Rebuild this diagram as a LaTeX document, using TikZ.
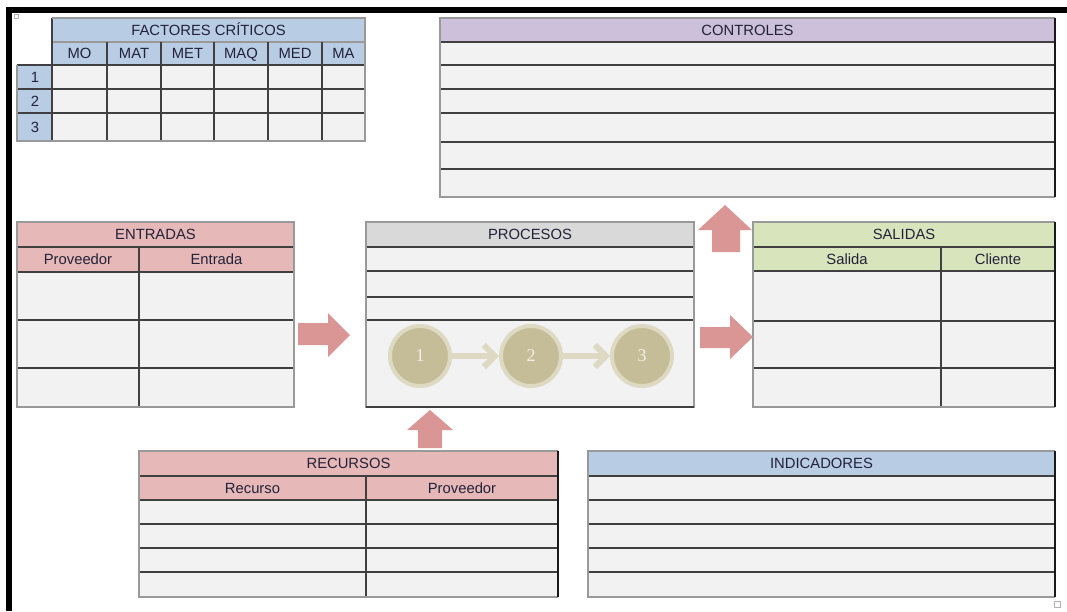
\documentclass[tikz,border=0pt]{standalone}
\usepackage{fontspec}
\setmainfont{Liberation Sans}
\newfontfamily\numfont{Liberation Serif}
\usetikzlibrary{arrows.meta}
\definecolor{cell}{HTML}{F2F2F2}
\definecolor{hblue}{HTML}{B8CCE4}
\definecolor{hlav}{HTML}{CCC0DA}
\definecolor{hpink}{HTML}{E6B8B7}
\definecolor{hgray}{HTML}{D9D9D9}
\definecolor{hgreen}{HTML}{D8E4BC}
\definecolor{arr}{HTML}{DA9694}
\definecolor{tan}{HTML}{C4BD97}
\definecolor{tanl}{HTML}{DDD9C3}
\definecolor{tanw}{HTML}{F2F0E6}
\definecolor{txt}{HTML}{22223A}
\begin{document}
\begin{tikzpicture}[x=1pt,y=-1pt,
  lbl/.style={text=txt,inner sep=0pt,text height=10.5pt,text depth=0pt,font=\fontsize{14.8}{16}\selectfont},
  gridln/.style={draw=black!75,line width=1.1pt},
  edgeln/.style={draw=black!40,line width=1.1pt},
  redge/.style={draw=black!90,line width=1.6pt},
  blk/.style={fill=arr},
  stage/.style={circle,minimum size=60pt,fill=tan,draw=tanl,line width=4pt,inner sep=0pt,text=tanw,font=\numfont\fontsize{18}{18}\selectfont},
  flow/.style={draw=tanl,line width=6pt,-{Straight Barb[length=11pt,width=22pt]}},
  handle/.style={draw=black!30,line width=0.6pt,fill=white}
]
\useasboundingbox (0,0) rectangle (1067,611);
\fill[white] (0,0) rectangle (1067,611);

% frame
\fill[black] (6,7) rectangle (1067,13);
\fill[black] (6,7) rectangle (12,611);

% ===== FACTORES CRITICOS =====
\fill[hblue] (52,18) rectangle (365,65);
\fill[hblue] (17,65) rectangle (52,141);
\fill[cell] (52,65) rectangle (365,141);
\draw[edgeln] (52,42) -- (365,42);
\foreach \y in {65,89,113} \draw[gridln] (17,\y) -- (365,\y);
\foreach \x in {107,161,214,268,322} \draw[gridln] (\x,42) -- (\x,141);
\draw[gridln] (52,18) -- (52,141);
\draw[edgeln] (52,18) -- (365,18) -- (365,141) -- (17,141) -- (17,65);
\node[lbl] (fc) at (208.5,30) {FACTORES CRÍTICOS};
\node[lbl] (fmo) at (79.5,53.5) {MO};
\node[lbl] (fmat) at (134,53.5) {MAT};
\node[lbl] (fmet) at (187.5,53.5) {MET};
\node[lbl] (fmaq) at (241,53.5) {MAQ};
\node[lbl] (fmed) at (295,53.5) {MED};
\node[lbl] (fma) at (343.5,53.5) {MA};
\node[lbl] (f1) at (35,77) {1};
\node[lbl] (f2) at (35,101) {2};
\node[lbl] (f3) at (35,127) {3};

% ===== CONTROLES =====
\fill[hlav] (440,18) rectangle (1055,42);
\fill[cell] (440,42) rectangle (1055,197);
\foreach \y in {42,65,89,113,142,169} \draw[gridln] (440,\y) -- (1055,\y);
\draw[edgeln] (1055,197) -- (440,197) -- (440,18) -- (1055,18);
\draw[redge] (1055,18) -- (1055,197);
\node[lbl] (ctl) at (747.5,30) {CONTROLES};

% ===== ENTRADAS =====
\fill[hpink] (17,222) rectangle (294,272);
\fill[cell] (17,272) rectangle (294,407);
\foreach \y in {247,272,320,368} \draw[gridln] (17,\y) -- (294,\y);
\draw[gridln] (139,247) -- (139,407);
\draw[edgeln] (17,222) rectangle (294,407);
\node[lbl] (ent) at (155.5,234.5) {ENTRADAS};
\node[lbl] (eprov) at (78,259.5) {Proveedor};
\node[lbl] (eent) at (216.5,259.5) {Entrada};

% ===== PROCESOS =====
\fill[hgray] (366,222) rectangle (694,247);
\fill[cell] (366,247) rectangle (694,407);
\foreach \y in {247,271,297,320} \draw[gridln] (366,\y) -- (694,\y);
\draw[edgeln] (366,222) rectangle (694,407);
\draw[gridln] (366,407) -- (694,407);
\node[lbl] (proc) at (530,234.5) {PROCESOS};
\node[stage] (c1) at (420,356) {1};
\node[stage] (c2) at (531,356) {2};
\node[stage] (c3) at (642,356) {3};
\draw[flow] (c1) -- (c2);
\draw[flow] (c2) -- (c3);

% ===== SALIDAS =====
\fill[hgreen] (753,222) rectangle (1055,271);
\fill[cell] (753,271) rectangle (1055,407);
\foreach \y in {247,271,321,368} \draw[gridln] (753,\y) -- (1055,\y);
\draw[gridln] (941,247) -- (941,407);
\draw[edgeln] (1055,407) -- (753,407) -- (753,222) -- (1055,222);
\draw[redge] (1055,222) -- (1055,407);
\node[lbl] (sal) at (904,234.5) {SALIDAS};
\node[lbl] (ssal) at (847,259) {Salida};
\node[lbl] (scli) at (998,259) {Cliente};

% ===== RECURSOS =====
\fill[hpink] (139,451) rectangle (558,500);
\fill[cell] (139,500) rectangle (558,597);
\foreach \y in {476,500,524,548,572} \draw[gridln] (139,\y) -- (558,\y);
\draw[gridln] (366,476) -- (366,597);
\draw[edgeln] (558,597) -- (139,597) -- (139,451) -- (558,451);
\draw[redge] (558,451) -- (558,597);
\node[lbl] (rec) at (348.5,463.5) {RECURSOS};
\node[lbl] (rrec) at (252.5,488) {Recurso};
\node[lbl] (rprov) at (462,488) {Proveedor};

% ===== INDICADORES =====
\fill[hblue] (588,451) rectangle (1055,476);
\fill[cell] (588,476) rectangle (1055,597);
\foreach \y in {476,500,524,548,572} \draw[gridln] (588,\y) -- (1055,\y);
\draw[edgeln] (1055,597) -- (588,597) -- (588,451) -- (1055,451);
\draw[redge] (1055,451) -- (1055,597);
\node[lbl] (ind) at (821.5,463.5) {INDICADORES};

% ===== block arrows =====
\fill[blk] (298,323) -- (328,323) -- (328,313) -- (350,335) -- (328,357) -- (328,345) -- (298,345) -- cycle;
\fill[blk] (700,327) -- (730,327) -- (730,315) -- (753,337) -- (730,359) -- (730,348) -- (700,348) -- cycle;
\fill[blk] (418,448) -- (418,430) -- (407,430) -- (430,410) -- (453,430) -- (442,430) -- (442,448) -- cycle;
\fill[blk] (712,252) -- (712,230) -- (698,230) -- (725,205) -- (752,230) -- (740,230) -- (740,252) -- cycle;

% selection handles
\draw[handle] (14,14) rectangle (18,18);
\draw[handle] (1054,601) rectangle (1060,607);
\end{tikzpicture}
\end{document}
